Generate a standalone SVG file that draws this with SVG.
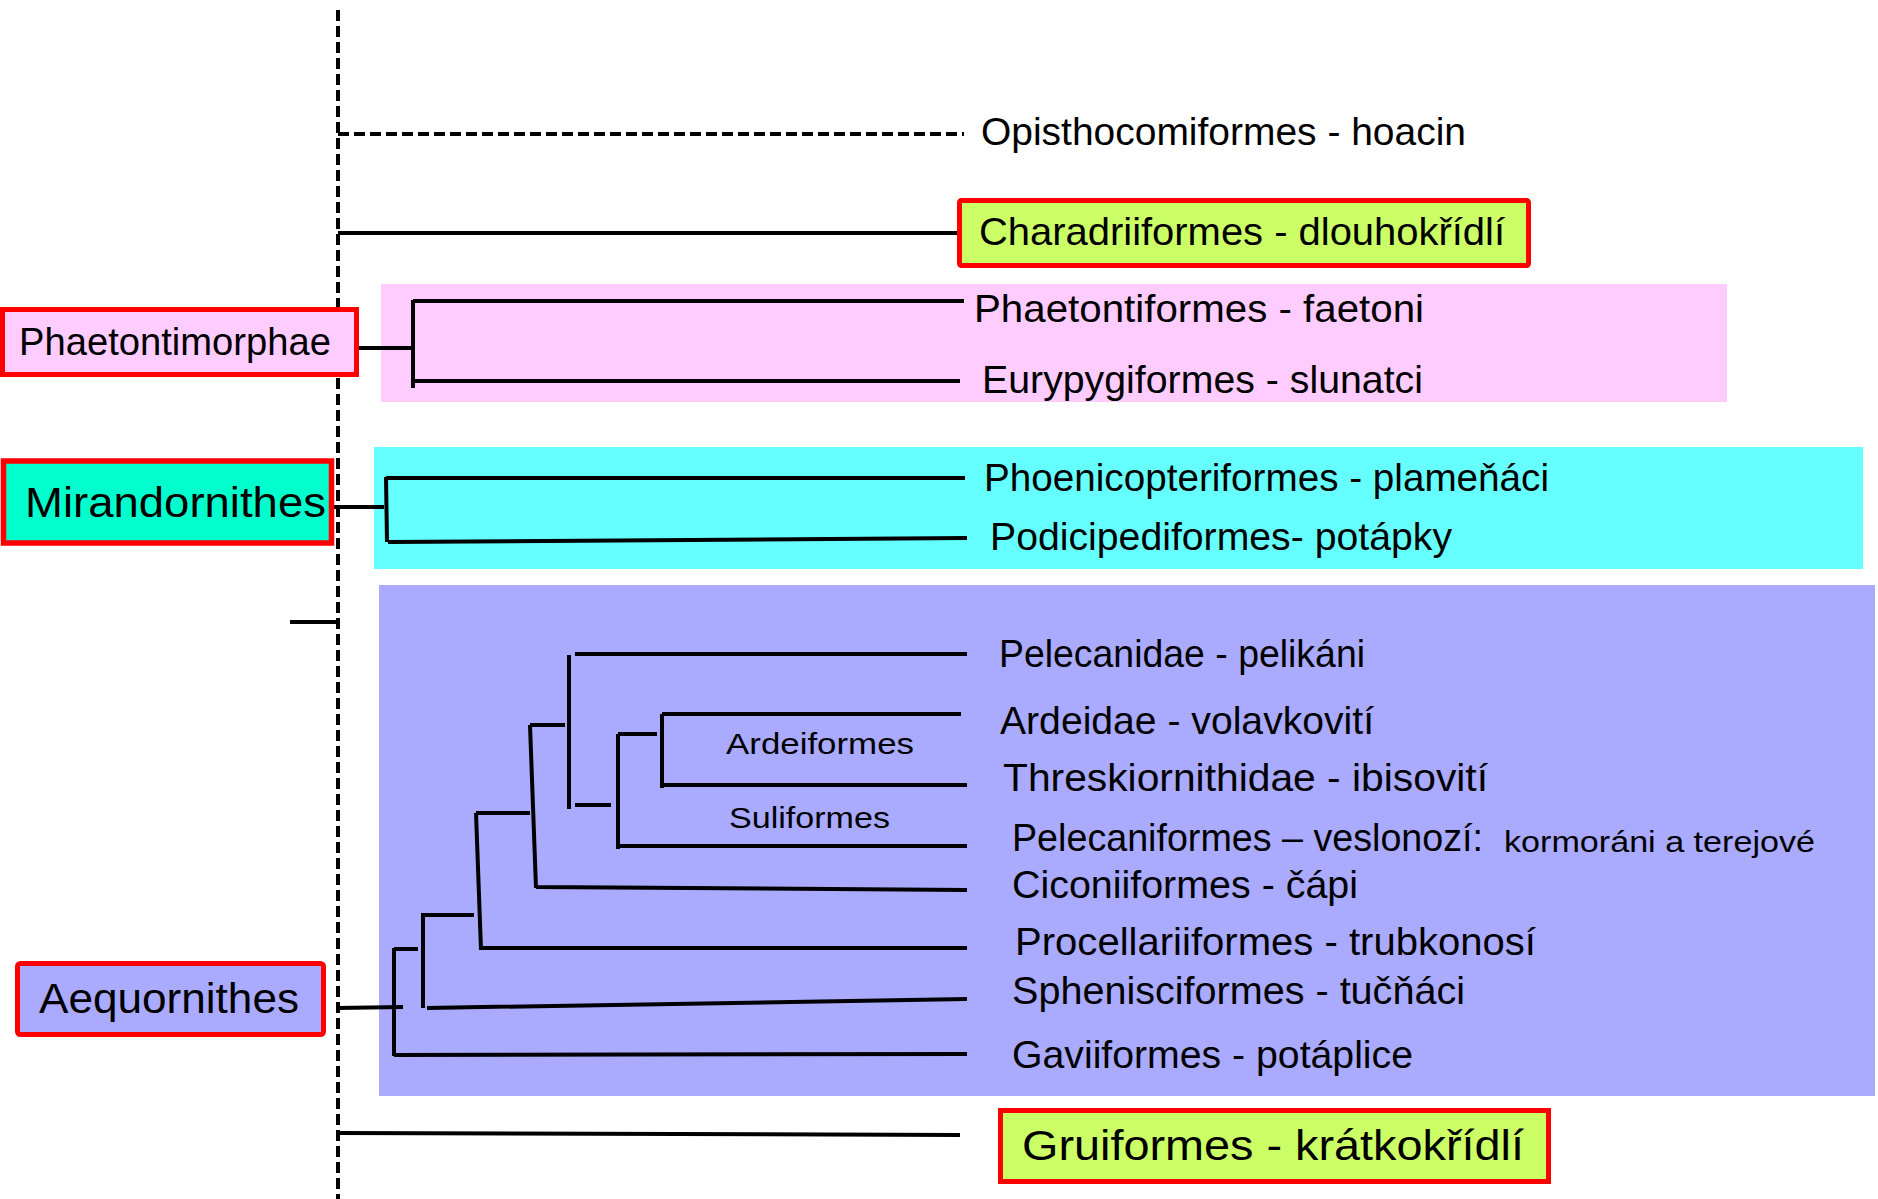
<svg xmlns="http://www.w3.org/2000/svg" width="1878" height="1199" viewBox="0 0 1878 1199">
<style>
text{font-family:"Comic Sans MS","Liberation Sans Narrow","Liberation Sans",sans-serif;fill:#000}
.lbl{font-size:39px}
.big{font-size:42px}
.sm{font-size:29px}
.box{stroke:#ff0000;stroke-width:5}
.ln{fill:none;stroke:#000;stroke-width:4}
.dash{fill:none;stroke:#000;stroke-width:4;stroke-dasharray:11 5}
</style>
<rect width="1878" height="1199" fill="#ffffff"/>
<g id="bands">
<rect x="381" y="284" width="1346" height="118" fill="#ffccff"/>
<rect x="374" y="447" width="1489" height="122" fill="#66ffff"/>
<rect x="379" y="585" width="1496" height="511" fill="#aaaaff"/>
</g>
<g id="connectors">
<path class="dash" d="M338,10 V1199"/>
<path class="dash" d="M338,134 H964"/>
<path class="ln" d="M338,233 H957"/>
<path class="ln" d="M359,348 H413 M413,300 V388 M413,301 H964 M413,381 H960"/>
<path class="ln" d="M334,507 H384 M386,477 L387,542 M386,478 H965 M388,542 L967,538"/>
<path class="ln" d="M290,622 H339"/>
<path class="ln" d="M337,1008 L403,1007 M394,948 V1056 M394,949 H418 M394,1055 L967,1054"/>
<path class="ln" d="M423,913 V1008 M423,915 H474 M427,1008 L967,999"/>
<path class="ln" d="M476,813 L481,950 M476,813 H530 M481,948 H967"/>
<path class="ln" d="M530,725 L536,888 M530,725 H565 M536,887 L967,890"/>
<path class="ln" d="M569,655 V809 M575,654 H967 M575,805 H611"/>
<path class="ln" d="M618,734 V849 M618,734 H657 M618,846 H967"/>
<path class="ln" d="M662,714 V788 M662,714 H961 M662,785 H967"/>
<path class="ln" d="M338,1133 L960,1135"/>
</g>
<g id="phaetontimorphae">
<rect class="box" x="2.5" y="309.5" width="354" height="65" fill="#ffccff"/>
<text class="lbl" x="19" y="355" textLength="312" lengthAdjust="spacingAndGlyphs">Phaetontimorphae</text>
</g>
<g id="mirandornithes">
<rect class="box" x="3.5" y="461" width="328" height="82" fill="#00ffcc" style="stroke-width:5.5"/>
<text class="big" x="25" y="517" textLength="301" lengthAdjust="spacingAndGlyphs">Mirandornithes</text>
</g>
<g id="aequornithes">
<rect class="box" x="17.5" y="963.5" width="306" height="71" rx="3" fill="#aaaaff"/>
<text class="big" x="39" y="1013" textLength="260" lengthAdjust="spacingAndGlyphs">Aequornithes</text>
</g>
<g id="opisthocomiformes">
<text class="lbl" x="981" y="145" textLength="485" lengthAdjust="spacingAndGlyphs">Opisthocomiformes - hoacin</text>
</g>
<g id="charadriiformes">
<rect class="box" x="959.5" y="200.5" width="569" height="65" rx="2" fill="#ccff66"/>
<text class="lbl" x="979" y="245" textLength="526" lengthAdjust="spacingAndGlyphs">Charadriiformes - dlouhokřídlí</text>
</g>
<g id="phaetontiformes">
<text class="lbl" x="974" y="322" textLength="450" lengthAdjust="spacingAndGlyphs">Phaetontiformes - faetoni</text>
</g>
<g id="eurypygiformes">
<text class="lbl" x="982" y="393" textLength="441" lengthAdjust="spacingAndGlyphs">Eurypygiformes - slunatci</text>
</g>
<g id="phoenicopteriformes">
<text class="lbl" x="984" y="491" textLength="565" lengthAdjust="spacingAndGlyphs">Phoenicopteriformes - plameňáci</text>
</g>
<g id="podicipediformes">
<text class="lbl" x="990" y="550" textLength="462" lengthAdjust="spacingAndGlyphs">Podicipediformes- potápky</text>
</g>
<g id="pelecanidae">
<text class="lbl" x="999" y="667" textLength="366" lengthAdjust="spacingAndGlyphs">Pelecanidae - pelikáni</text>
</g>
<g id="ardeidae">
<text class="lbl" x="1000" y="734" textLength="374" lengthAdjust="spacingAndGlyphs">Ardeidae - volavkovití</text>
</g>
<g id="threskiornithidae">
<text class="lbl" x="1003" y="791" textLength="485" lengthAdjust="spacingAndGlyphs">Threskiornithidae - ibisovití</text>
</g>
<g id="pelecaniformes">
<text class="lbl" x="1012" y="851" textLength="471" lengthAdjust="spacingAndGlyphs">Pelecaniformes – veslonozí:</text>
<text class="sm" x="1504" y="852" textLength="311" lengthAdjust="spacingAndGlyphs">kormoráni a terejové</text>
</g>
<g id="ciconiiformes">
<text class="lbl" x="1012" y="898" textLength="346" lengthAdjust="spacingAndGlyphs">Ciconiiformes - čápi</text>
</g>
<g id="procellariiformes">
<text class="lbl" x="1015" y="955" textLength="521" lengthAdjust="spacingAndGlyphs">Procellariiformes - trubkonosí</text>
</g>
<g id="sphenisciformes">
<text class="lbl" x="1012" y="1004" textLength="453" lengthAdjust="spacingAndGlyphs">Sphenisciformes - tučňáci</text>
</g>
<g id="gaviiformes">
<text class="lbl" x="1012" y="1068" textLength="401" lengthAdjust="spacingAndGlyphs">Gaviiformes - potáplice</text>
</g>
<g id="gruiformes">
<rect class="box" x="1000.5" y="1110.5" width="548" height="71" fill="#ccff66"/>
<text class="big" x="1022" y="1160" textLength="502" lengthAdjust="spacingAndGlyphs">Gruiformes - krátkokřídlí</text>
</g>
<g id="ardeiformes">
<text class="sm" x="726" y="754" textLength="188" lengthAdjust="spacingAndGlyphs">Ardeiformes</text>
</g>
<g id="suliformes">
<text class="sm" x="729" y="828" textLength="161" lengthAdjust="spacingAndGlyphs">Suliformes</text>
</g>
</svg>
